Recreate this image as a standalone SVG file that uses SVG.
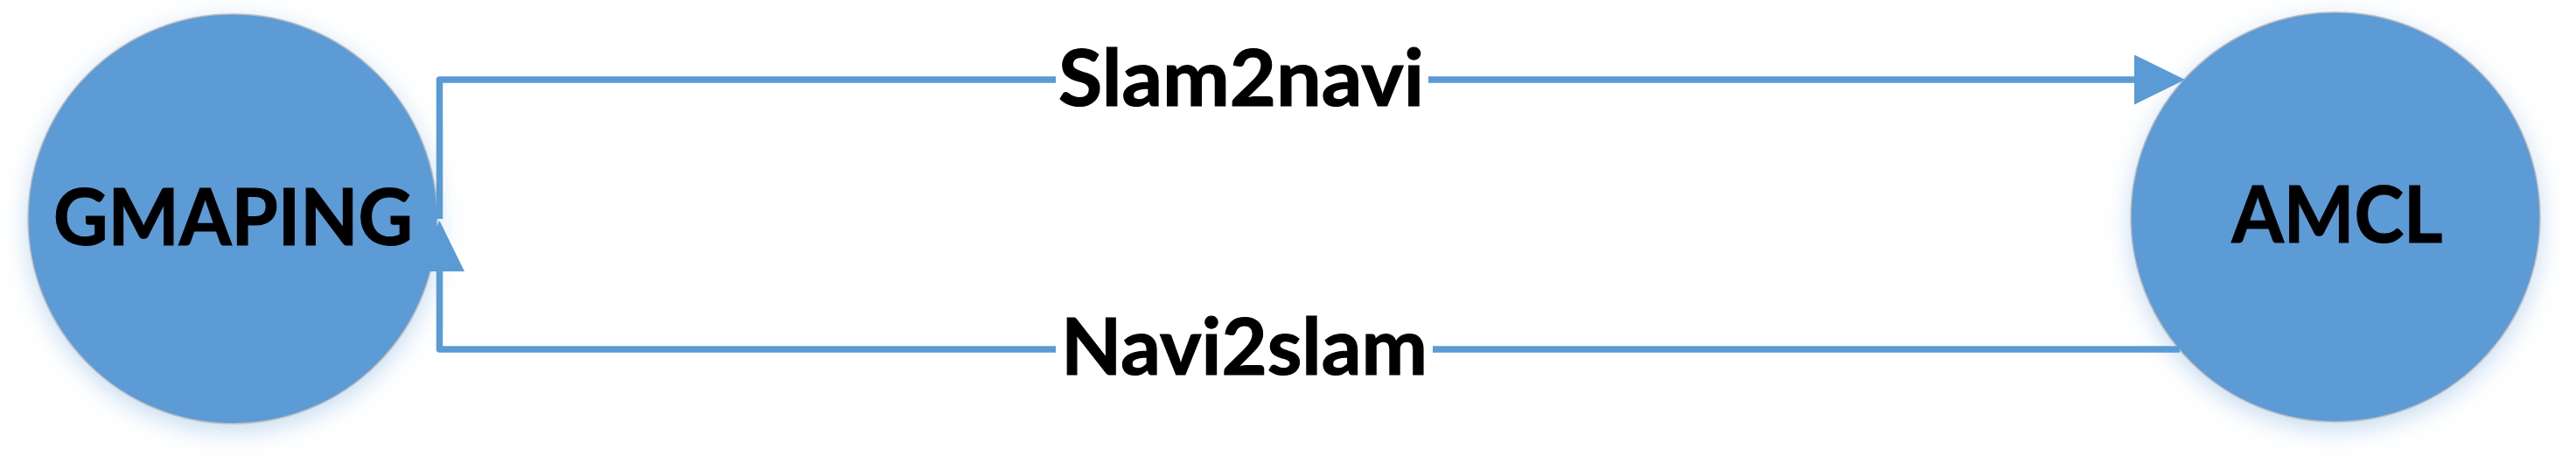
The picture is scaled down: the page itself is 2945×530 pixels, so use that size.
<svg xmlns="http://www.w3.org/2000/svg" width="2945" height="530" viewBox="0 0 2945 530">
  <style>
    .node { fill: #5B9BD5; stroke: #BFBFBF; stroke-width: 1.5; filter: url(#glow); }
    .ntext { font-family: Lato, "Liberation Sans", sans-serif; font-weight: bold; font-size: 90px; fill: #000; text-anchor: middle; stroke: #000; stroke-width: 1.2; }
    .conn { fill: none; stroke: #5B9BD5; stroke-width: 7.5; stroke-linejoin: round; }
    .lbg { fill: #FFFFFF; }
    .ltext { font-family: Lato, "Liberation Sans", sans-serif; font-weight: bold; font-size: 90px; fill: #000; text-anchor: middle; stroke: #000; stroke-width: 1.2; }
  </style>
  <defs>
    <filter id="glow" x="-20%" y="-20%" width="140%" height="150%">
      <feDropShadow dx="0" dy="8" stdDeviation="14" flood-color="#5B9BD5" flood-opacity="0.35"/>
    </filter>
    <marker id="arrow" markerUnits="userSpaceOnUse" markerWidth="58" markerHeight="57" refX="0" refY="28.5" orient="auto" viewBox="0 0 58 57">
      <path d="M0,0 L58,28.5 L0,57 z" fill="#5B9BD5"/>
    </marker>
  </defs>
  <rect width="2945" height="530" fill="#FFFFFF"/>

  <g id="node-gmaping">
    <circle class="node" cx="266" cy="250" r="234"/>
    <text class="ntext" x="266.5" y="280" textLength="411" lengthAdjust="spacingAndGlyphs">GMAPING</text>
  </g>

  <g id="node-amcl">
    <circle class="node" cx="2670" cy="248" r="234"/>
    <text class="ntext" x="2672" y="277" textLength="241" lengthAdjust="spacingAndGlyphs">AMCL</text>
  </g>

  <g id="connectors">
    <g id="edge-slam2navi">
      <path class="conn" d="M502.5 250 V91 H2440" marker-end="url(#arrow)"/>
      <rect class="lbg" x="1207" y="66" width="426" height="50"/>
      <text class="ltext" x="1419" y="121" textLength="418" lengthAdjust="spacingAndGlyphs">Slam2navi</text>
    </g>
    <g id="edge-navi2slam">
      <path class="conn" d="M2492 399 H502.5 V310" marker-end="url(#arrow)"/>
      <rect class="lbg" x="1207" y="374" width="431" height="50"/>
      <text class="ltext" x="1422.5" y="428" textLength="419" lengthAdjust="spacingAndGlyphs">Navi2slam</text>
    </g>
  </g>
</svg>
